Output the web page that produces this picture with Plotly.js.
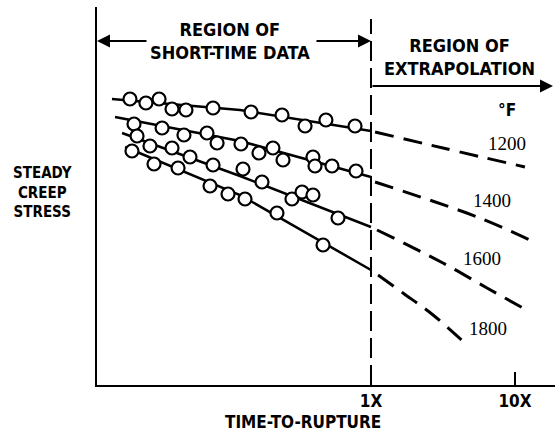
<!DOCTYPE html>
<html>
<head>
<meta charset="utf-8">
<script src="https://cdn.plot.ly/plotly-3.0.1.min.js"></script>
<style>html,body{margin:0;padding:0;background:#fff;}#chart{width:555px;height:441px;}</style>
</head>
<body>
<div id="chart"></div>
<script>
// x = log10(time-to-rupture as a multiple of short-time data limit), y = stress (arbitrary units)
const tickVals = [0, 1];
const tickText = ['1X', '10X'];
const temps = ['1200', '1400', '1600', '1800'];

// measured data points (circles)
const pts1200x = [-1.674, -1.563, -1.472, -1.382, -1.285, -1.097, -0.833, -0.618, -0.458, -0.313, -0.111];
const pts1200y = [28.6, 28.2, 28.6, 27.6, 27.5, 27.7, 27.3, 27.0, 25.9, 26.5, 25.9];
const pts1400x = [-1.646, -1.451, -1.299, -1.139, -1.069, -0.903, -0.778, -0.681, -0.611, -0.403, -0.389, -0.271, -0.104];
const pts1400y = [26.1, 25.7, 25.0, 25.2, 24.2, 24.1, 23.2, 23.7, 22.5, 22.8, 21.9, 21.9, 21.4];
const pts1600x = [-1.625, -1.535, -1.382, -1.257, -1.097, -0.889, -0.757, -0.549, -0.479, -0.403, -0.229];
const pts1600y = [24.9, 23.9, 23.7, 22.8, 22.0, 21.6, 20.3, 18.6, 19.3, 19.0, 16.7];
const pts1800x = [-1.660, -1.507, -1.340, -1.118, -0.993, -0.875, -0.653, -0.333];
const pts1800y = [23.4, 22.1, 21.7, 19.9, 19.1, 18.6, 17.2, 14.0];

// fitted curves through short-time data
const fit1200x = [-1.799, -0.910, 0];
const fit1200y = [28.6, 27.5, 25.4];
const fit1400x = [-1.778, -0.910, 0];
const fit1400y = [26.8, 24.4, 20.8];
const fit1600x = [-1.729, -0.910, 0];
const fit1600y = [25.2, 20.9, 15.8];
const fit1800x = [-1.708, -0.910, 0];
const fit1800y = [23.8, 19.0, 11.5];

// extrapolated curves
const ext1200x = [0.028, 0.5, 1.069];
const ext1200y = [25.3, 23.7, 21.8];
const ext1400x = [0.028, 0.757, 1.104];
const ext1400y = [20.3, 16.7, 14.5];
const ext1600x = [0.042, 0.5, 0.806, 1.056];
const ext1600y = [15.5, 12.2, 9.7, 7.7];
const ext1800x = [0.049, 0.222, 0.431, 0.667];
const ext1800y = [11.0, 9.2, 7.0, 4.0];

// label positions for temperatures
const labelX = [0.944, 0.840, 0.771, 0.813];
const labelY = [24.2, 18.5, 12.7, 5.7];

const FONT = '"Liberation Sans Narrow", "Arial Narrow", "DejaVu Sans Condensed", sans-serif';
const SERIF = '"Liberation Serif", "DejaVu Serif", serif';

const fits = [[fit1200x, fit1200y], [fit1400x, fit1400y], [fit1600x, fit1600y], [fit1800x, fit1800y]];
const exts = [[ext1200x, ext1200y], [ext1400x, ext1400y], [ext1600x, ext1600y], [ext1800x, ext1800y]];
const pts = [[pts1200x, pts1200y], [pts1400x, pts1400y], [pts1600x, pts1600y], [pts1800x, pts1800y]];

const traces = [];
fits.forEach((f, i) => traces.push({
  x: f[0], y: f[1], mode: 'lines', name: temps[i] + ' fit',
  line: {color: 'black', width: 2.5}, hoverinfo: 'skip'
}));
exts.forEach((e, i) => traces.push({
  x: e[0], y: e[1], mode: 'lines', name: temps[i] + ' extrapolated',
  line: {color: 'black', width: 3, dash: '19px,10px', shape: 'spline'}, hoverinfo: 'skip'
}));
pts.forEach((p, i) => traces.push({
  x: p[0], y: p[1], mode: 'markers', name: temps[i] + ' °F',
  marker: {symbol: 'circle', size: 13, color: 'white', line: {color: 'black', width: 2.2}}
}));

const C = {xanchor: 'center', yanchor: 'middle'};
const annotations = [
  Object.assign({x: -0.979, y: 34.4, xref: 'x', yref: 'y', showarrow: false,
   text: 'REGION OF<br>SHORT-TIME DATA', font: {family: FONT, size: 18, color: 'black', weight: 'bold'}}, C),
  Object.assign({x: 0.618, y: 32.85, xref: 'x', yref: 'y', showarrow: false,
   text: 'REGION OF<br>EXTRAPOLATION', font: {family: FONT, size: 18, color: 'black', weight: 'bold'}}, C),
  {x: -1.903, y: 34.4, xref: 'x', yref: 'y', text: '', showarrow: true, ax: 51, ay: 0,
   arrowhead: 2, arrowsize: 1.3, arrowwidth: 2, arrowcolor: 'black', standoff: 0},
  {x: 0, y: 34.4, xref: 'x', yref: 'y', text: '', showarrow: true, ax: -56, ay: 0,
   arrowhead: 2, arrowsize: 1.3, arrowwidth: 2, arrowcolor: 'black', standoff: 0},
  {x: 1.264, y: 29.9, xref: 'x', yref: 'y', text: '', showarrow: true, ax: -182, ay: 0,
   arrowhead: 2, arrowsize: 1.3, arrowwidth: 2, arrowcolor: 'black', standoff: 0},
  Object.assign({x: 0.944, y: 27.5, xref: 'x', yref: 'y', showarrow: false, text: '°F',
   font: {family: FONT, size: 17, color: 'black', weight: 'bold'}}, C),
  Object.assign({x: -0.120, y: 0.508, xref: 'paper', yref: 'paper', showarrow: false,
   text: 'STEADY<br>CREEP<br>STRESS', font: {family: FONT, size: 15, color: 'black', weight: 'bold'}}, C),
  Object.assign({x: -0.472, y: -0.098, xref: 'x', yref: 'paper', showarrow: false,
   text: 'TIME-TO-RUPTURE', font: {family: FONT, size: 17, color: 'black', weight: 'bold'}}, C)
];
temps.forEach((t, i) => annotations.push(Object.assign({
  x: labelX[i], y: labelY[i], xref: 'x', yref: 'y', showarrow: false, text: t,
  font: {family: SERIF, size: 19, color: 'black'}
}, C)));

const layout = {
  width: 555, height: 441,
  margin: {l: 97, r: 0, t: 7, b: 56},
  paper_bgcolor: 'white', plot_bgcolor: 'white',
  showlegend: false,
  xaxis: {
    range: [-1.903, 1.278], tickvals: tickVals, ticktext: tickText,
    ticks: 'inside', ticklen: 13, tickwidth: 2, tickcolor: 'black',
    showline: true, linewidth: 2, linecolor: 'black',
    showgrid: false, zeroline: false, fixedrange: true,
    tickfont: {family: FONT, size: 17, color: 'black', weight: 'bold'}
  },
  yaxis: {
    range: [0, 37.8], showline: true, linewidth: 2, linecolor: 'black',
    showticklabels: false, ticks: '', showgrid: false, zeroline: false, fixedrange: true
  },
  shapes: [
    {type: 'line', xref: 'x', yref: 'y', x0: 0, x1: 0, y0: 0, y1: 36.6,
     line: {color: 'black', width: 2, dash: '20px,7px'}}
  ],
  annotations: annotations
};

Plotly.newPlot('chart', traces, layout, {staticPlot: true, displayModeBar: false});
</script>
</body>
</html>
